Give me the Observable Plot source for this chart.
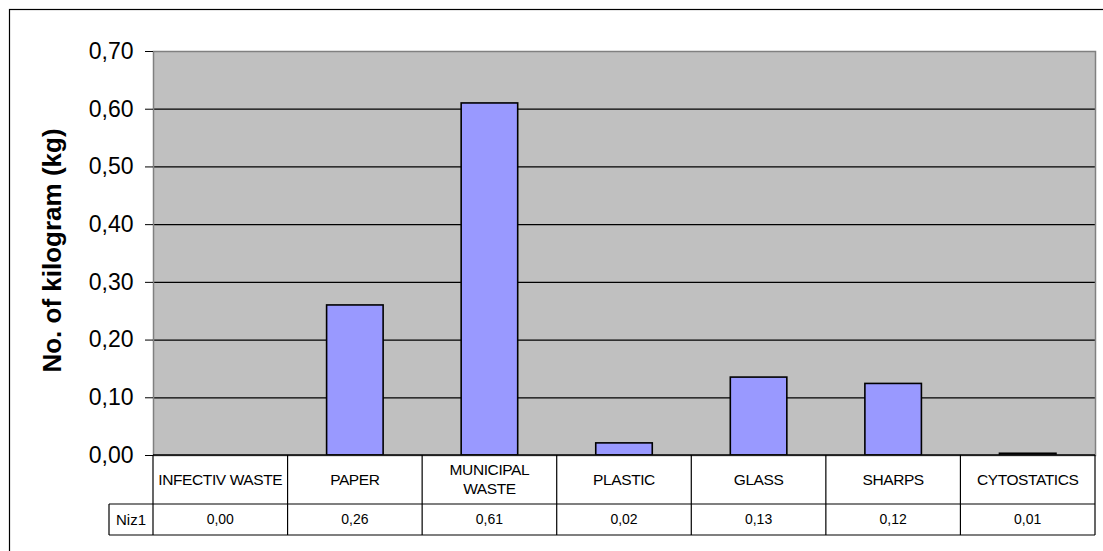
<!DOCTYPE html>
<html><head><meta charset="utf-8">
<script src="https://cdn.jsdelivr.net/npm/d3@7"></script>
<script src="https://cdn.jsdelivr.net/npm/@observablehq/plot@0.6"></script>
<style>body{margin:0;background:#fff}svg{display:block}</style>
</head><body><div id="chart"></div>
<script>
const categories = ["INFECTIV WASTE","PAPER","MUNICIPAL WASTE","PLASTIC","GLASS","SHARPS","CYTOSTATICS"];
const categoryLabels = ["INFECTIV WASTE","PAPER","MUNICIPAL\nWASTE","PLASTIC","GLASS","SHARPS","CYTOSTATICS"];
const values = [0.000, 0.260, 0.610, 0.021, 0.135, 0.124, 0.003];
const tableLabels = ["0,00","0,26","0,61","0,02","0,13","0,12","0,01"];
const seriesName = "Niz1";
const yTicks = [0, 0.1, 0.2, 0.3, 0.4, 0.5, 0.6, 0.7];
const gridValues = [0.1, 0.2, 0.3, 0.4, 0.5, 0.6];

const data = categories.map((c, i) => ({cat: c, value: values[i], label: categoryLabels[i], table: tableLabels[i]}));
const FONT = "'Liberation Sans', Arial, sans-serif";
const W = 1103, H = 551;

const plot = Plot.plot({
  width: W, height: H,
  marginLeft: 153, marginRight: 8, marginTop: 51, marginBottom: 96,
  style: {fontFamily: FONT, background: "white", overflow: "visible", color: "black"},
  x: {type: "band", domain: categories, paddingInner: 0.58, paddingOuter: 0.29, round: false, axis: null},
  y: {domain: [0, 0.7], axis: null},
  marks: [
    Plot.frame({fill: "#C0C0C0", stroke: null}),
    Plot.ruleY(gridValues, {stroke: "black", strokeWidth: 1.2}),
    Plot.barY(data, {x: "cat", y: "value", fill: "#9999FF", stroke: "black", strokeWidth: 1.6}),
    Plot.frame({stroke: "#808080", strokeWidth: 1.5}),
    Plot.axisY({ticks: yTicks, tickFormat: d => d3.format(".2f")(d).replace(".", ","), tickSize: 8, tickPadding: 12, fontSize: 23, label: null, stroke: "black"}),
    Plot.text(["No. of kilogram (kg)"], {frameAnchor: "left", rotate: -90, dx: -101, dy: -3, text: d => d, fontSize: 26, fontWeight: "bold", textAnchor: "middle", lineAnchor: "middle"})
  ]
});

const svg = d3.select(plot);
const xs = plot.scale("x");
const ys = plot.scale("y");
const y0 = ys.apply(0);
const row1 = y0 + 49, row2 = y0 + 80;
const cols = categories.map(c => {
  const cx = xs.apply(c) + xs.bandwidth / 2;
  return {cat: c, left: cx - xs.step / 2, right: cx + xs.step / 2, cx};
});
const tableLeft = cols[0].left, tableRight = cols[cols.length - 1].right;
const labelLeft = tableLeft - 44;

const g = svg.append("g").attr("stroke", "black").attr("stroke-width", 1.2).attr("fill", "none");
g.append("line").attr("x1", tableLeft).attr("x2", tableRight).attr("y1", y0).attr("y2", y0).attr("stroke-width", 1.6);
g.append("line").attr("x1", labelLeft).attr("x2", tableRight).attr("y1", row1).attr("y2", row1);
g.append("line").attr("x1", labelLeft).attr("x2", tableRight).attr("y1", row2).attr("y2", row2);
g.append("line").attr("x1", labelLeft).attr("x2", labelLeft).attr("y1", row1).attr("y2", row2);
g.append("line").attr("x1", tableLeft).attr("x2", tableLeft).attr("y1", y0).attr("y2", row2);
cols.forEach(c => {
  g.append("line").attr("x1", c.right).attr("x2", c.right).attr("y1", y0).attr("y2", row2);
});

const tg = svg.append("g").attr("font-family", FONT).attr("fill", "black").attr("text-anchor", "middle");
data.forEach((d, i) => {
  const lines = d.label.split("\n");
  const mid = (y0 + row1) / 2;
  lines.forEach((ln, j) => {
    tg.append("text").attr("x", cols[i].cx).attr("y", mid + (j - (lines.length - 1) / 2) * 19)
      .attr("dy", "0.35em").attr("font-size", 15.5).attr("letter-spacing", -0.4).text(ln);
  });
  tg.append("text").attr("x", cols[i].cx).attr("y", (row1 + row2) / 2).attr("dy", "0.35em")
    .attr("font-size", 14).text(d.table);
});
tg.append("text").attr("x", (labelLeft + tableLeft) / 2).attr("y", (row1 + row2) / 2).attr("dy", "0.35em")
  .attr("font-size", 15).text(seriesName);

svg.append("rect").attr("x", 9.5).attr("y", 9.5).attr("width", 1200).attr("height", 700)
  .attr("fill", "none").attr("stroke", "black").attr("stroke-width", 1.2);

document.getElementById("chart").appendChild(plot);
</script>
</body></html>
